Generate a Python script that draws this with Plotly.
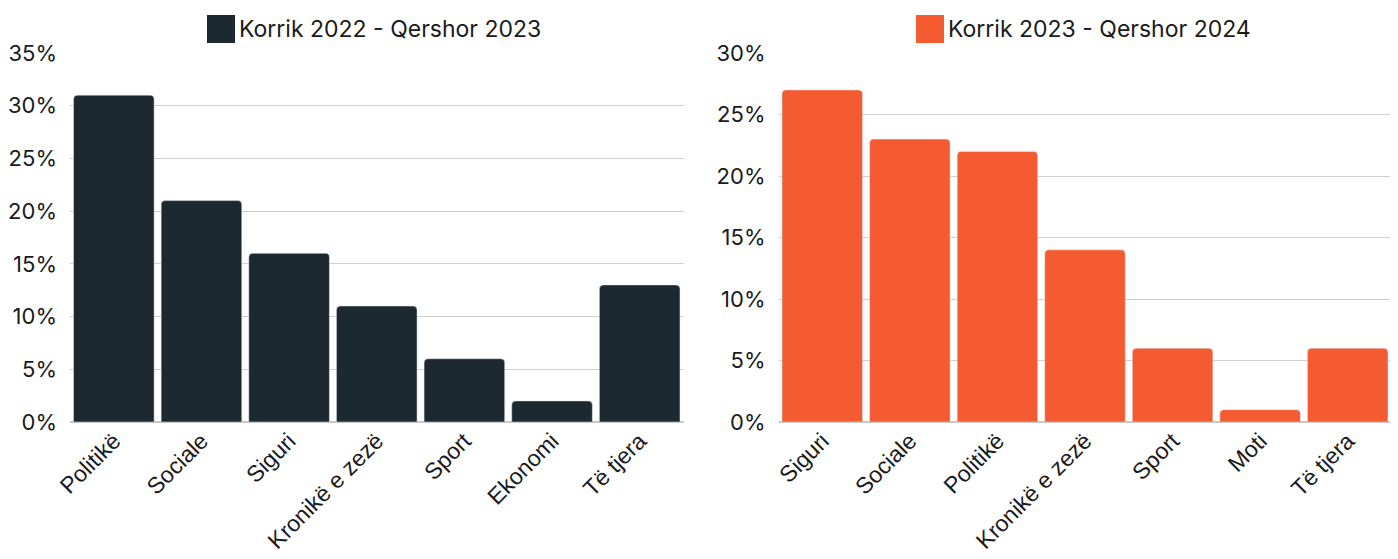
import plotly.graph_objects as go
from plotly.subplots import make_subplots

# Periudha 1
kat_2022 = ['Politikë', 'Sociale', 'Siguri', 'Kronikë e zezë', 'Sport', 'Ekonomi', 'Të tjera']
vl_2022 = [31, 21, 16, 11, 6, 2, 13]
emri_2022 = 'Korrik 2022 - Qershor 2023'

# Periudha 2
kat_2023 = ['Siguri', 'Sociale', 'Politikë', 'Kronikë e zezë', 'Sport', 'Moti', 'Të tjera']
vl_2023 = [27, 23, 22, 14, 6, 1, 6]
emri_2023 = 'Korrik 2023 - Qershor 2024'

ngjyra_1 = '#1d2931'
ngjyra_2 = '#f55b31'

# faqja ka 8px margin ne body, figura vizatohet nga (8, 8)
OFF = 8
W, H = 1390, 551
ML, MR, MT, MB = 62, 6, 45, 137
pw = W - ML - MR
ph = H - MT - MB

def px_x(x):
    return (x - OFF - ML) / pw

def px_y(y):
    return (H - MB - (y - OFF)) / ph

fig = make_subplots(rows=1, cols=2, horizontal_spacing=0.0)

fig.add_trace(go.Bar(x=kat_2022, y=vl_2022, name=emri_2022,
                     marker=dict(color=ngjyra_1, cornerradius=4),
                     showlegend=False), row=1, col=1)
fig.add_trace(go.Bar(x=kat_2023, y=vl_2023, name=emri_2023,
                     marker=dict(color=ngjyra_2, cornerradius=4),
                     showlegend=False), row=1, col=2)

# Legjenda si katror + tekst
for x0, col, txt in [(207, ngjyra_1, emri_2022), (916, ngjyra_2, emri_2023)]:
    fig.add_shape(type='rect', xref='paper', yref='paper',
                  x0=px_x(x0), x1=px_x(x0 + 28), y0=px_y(43), y1=px_y(15),
                  fillcolor=col, line=dict(width=0))
    fig.add_annotation(xref='paper', yref='paper', x=px_x(x0 + 30), y=px_y(29),
                       xanchor='left', yanchor='middle', showarrow=False,
                       text=txt, font=dict(family='Inter', size=23, color='#1a1a1a'))

fig.update_layout(
    width=W, height=H,
    margin=dict(l=ML, r=MR, t=MT, b=MB),
    plot_bgcolor='white', paper_bgcolor='white',
    bargap=0.08,
    font=dict(family='Inter', size=20, color='#1a1a1a'),
)

fig.update_xaxes(domain=[px_x(70), px_x(683.5)], row=1, col=1)
fig.update_xaxes(domain=[px_x(778.5), px_x(1391.5)], row=1, col=2)
fig.update_xaxes(tickangle=-45, showgrid=False, showline=False, ticks='',
                 automargin=False,
                 tickfont=dict(family='Liberation Sans', size=23, color='#1a1a1a'))

fig.update_yaxes(range=[0, 35], dtick=5, row=1, col=1)
fig.update_yaxes(range=[0, 30], dtick=5, row=1, col=2)
fig.update_yaxes(ticksuffix='%', showgrid=True, gridcolor='#d0d0d0', gridwidth=1,
                 zeroline=True, zerolinecolor='#c8c8c8', showline=False, ticks='',
                 ticklabelstandoff=12, automargin=False,
                 tickfont=dict(family='Inter', size=22, color='#1a1a1a'))

fig.write_html('out.html')
